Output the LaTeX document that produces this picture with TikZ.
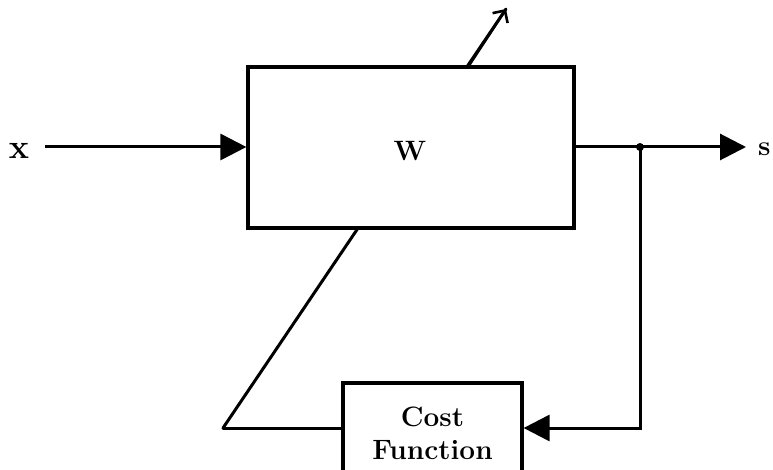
\documentclass[tikz,border=0pt]{standalone}
\usetikzlibrary{arrows.meta}
\begin{document}
\begin{tikzpicture}[x=1pt,y=-1pt,
  wire/.style={line width=3pt},
  sig/.style={wire,-{Triangle[length=26pt,width=26pt]}},
  blockbox/.style={draw,line width=3.2pt,fill=white,inner sep=0pt},
  lbl/.style={font=\fontsize{28}{33}\selectfont\bfseries,inner sep=0pt,align=center}]
\useasboundingbox (0,0) rectangle (773,470);

% adaptation line running behind the filter block
\coordinate (foot) at (223,428);
\coordinate (tip) at (506,9);
\draw[wire,line cap=round] (foot) -- (tip);
\draw[line width=2.6pt,-{Straight Barb[length=9pt,width=18pt]}] (468,67) -- (tip);

% blocks
\node[blockbox,minimum width=326pt,minimum height=161pt] (W) at (411,147.5) {};
\node[lbl] (wlabel) at (410,151) {W};
\node[blockbox,lbl,minimum width=179pt,minimum height=100pt] (cost) at (432.5,433) {Cost\\Function};

% signals
\node[lbl,font=\fontsize{34}{40}\selectfont\bfseries] (xin) at (19,151) {x};
\node[lbl,anchor=west] (sout) at (758,149) {s};
\coordinate (xstart) at (45,147);
\coordinate (split) at (640,147);
\coordinate (corner) at (640,428);
\coordinate (outend) at (746,147);

\draw[sig] (xstart) -- (W.west |- xstart);
\draw[sig] (W.east |- split) -- (outend);
\fill (split) circle (4pt);
\draw[sig] (split) -- (corner) -- (cost.east |- corner);
\draw[wire,line cap=round] (cost.west |- corner) -- (foot);
\end{tikzpicture}
\end{document}
